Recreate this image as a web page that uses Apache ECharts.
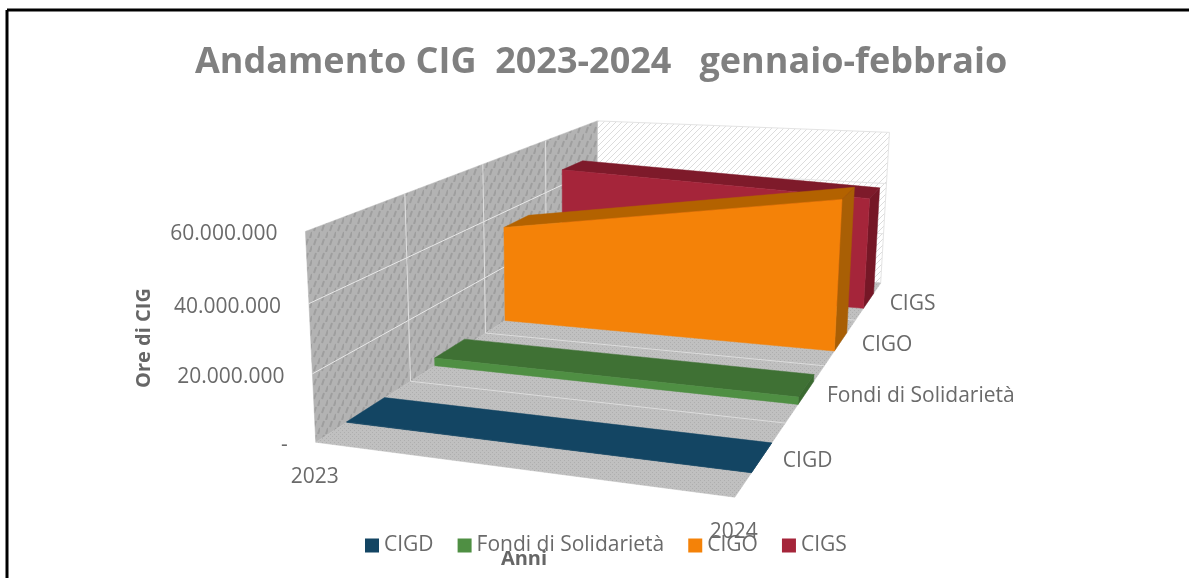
<!DOCTYPE html>
<html>
<head>
<meta charset="utf-8">
<style>
  html, body { margin: 0; padding: 0; background: #fff; overflow: hidden; }
  #main { width: 1189px; height: 578px; }
</style>
<script src="https://cdn.jsdelivr.net/npm/echarts@6/dist/echarts.min.js"></script>
</head>
<body>
<div id="main"></div>
<script>
// dati
var anni = ["2023", "2024"];
var nomiSerie = ["CIGD", "Fondi di Solidarietà", "CIGO", "CIGS"];
var cigd = [150000, 100000];
var fondi = [2600000, 2300000];
var cigo = [34500000, 51500000];
var cigs = [46000000, 41300000];
var tickValori = [0, 20000000, 40000000, 60000000];
var tickEtichette = ["-", "20.000.000", "40.000.000", "60.000.000"];
var valoriSerie = [cigd, fondi, cigo, cigs];

var colori = ["#134563", "#4f8f43", "#f48208", "#a5253a"];
var coloriTop = ["#134563", "#3f7134", "#b36200", "#7e1a2a"];
var coloriLato = ["#134563", "#3a6a30", "#a95f05", "#751726"];
var FONT = '"Open Sans", "Noto Sans", sans-serif';

// angoli del box 3D in pixel: [u, v, h, x, y]
var angoli = [
  [0, 0, 0, 316, 441],
  [1, 0, 0, 735, 498],
  [1, 1, 0, 881, 282],
  [0, 1, 0, 596, 263],
  [0, 0, 1, 305, 232],
  [0, 1, 1, 598, 120],
  [1, 1, 1, 889, 133]
];

// risolve la proiezione prospettica con i minimi quadrati
function camera() {
  var righe = [];
  angoli.forEach(function (a) {
    var x = a[3] / 1000, y = a[4] / 1000;
    righe.push([a[0], a[1], a[2], 1, 0, 0, 0, 0, -x * a[0], -x * a[1], -x * a[2], x]);
    righe.push([0, 0, 0, 0, a[0], a[1], a[2], 1, -y * a[0], -y * a[1], -y * a[2], y]);
  });
  var n = 11, m = [];
  for (var i = 0; i < n; i++) {
    m[i] = [];
    for (var j = 0; j <= n; j++) {
      var s = 0;
      righe.forEach(function (r) { s += r[i] * r[j]; });
      m[i][j] = s;
    }
  }
  for (var c = 0; c < n; c++) {
    var p = c;
    for (var r = c + 1; r < n; r++) if (Math.abs(m[r][c]) > Math.abs(m[p][c])) p = r;
    var t = m[c]; m[c] = m[p]; m[p] = t;
    for (var r2 = 0; r2 < n; r2++) {
      if (r2 === c) continue;
      var f = m[r2][c] / m[c][c];
      for (var k = c; k <= n; k++) m[r2][k] -= f * m[c][k];
    }
  }
  var sol = [];
  for (var q = 0; q < n; q++) sol[q] = m[q][n] / m[q][q];
  return sol;
}
var cam = camera();
function proietta(u, v, h) {
  var w = cam[8] * u + cam[9] * v + cam[10] * h + 1;
  return [
    1000 * (cam[0] * u + cam[1] * v + cam[2] * h + cam[3]) / w,
    1000 * (cam[4] * u + cam[5] * v + cam[6] * h + cam[7]) / w
  ];
}

// texture delle pareti
function tile(w, h, base, colore, disegna) {
  var cv = document.createElement("canvas");
  cv.width = w; cv.height = h;
  var g = cv.getContext("2d");
  g.fillStyle = base;
  g.fillRect(0, 0, w, h);
  g.strokeStyle = colore;
  g.fillStyle = colore;
  disegna(g);
  return { image: cv, repeat: "repeat" };
}
var texParete = tile(8, 14, "#b3b3b3", "#9e9e9e", function (g) {
  g.lineWidth = 2;
  g.beginPath();
  g.moveTo(2, 7); g.lineTo(4, 1);
  g.moveTo(6, 14); g.lineTo(8, 8);
  g.stroke();
});
var texPavimento = tile(4, 4, "#c0c0c0", "#aeaeae", function (g) {
  g.fillRect(0, 0, 1, 1);
  g.fillRect(2, 2, 1, 1);
});
var texFondo = tile(6, 6, "#ffffff", "#dcdcdc", function (g) {
  g.lineWidth = 1;
  g.beginPath();
  g.moveTo(0, 6); g.lineTo(6, 0);
  g.stroke();
});

function poligono(pts, fill, stroke) {
  return {
    type: "polygon",
    shape: { points: pts },
    style: { fill: fill, stroke: stroke || fill, lineWidth: stroke ? 1 : 0.5 }
  };
}
function linea(a, b, colore) {
  return {
    type: "line",
    shape: { x1: a[0], y1: a[1], x2: b[0], y2: b[1] },
    style: { stroke: colore, lineWidth: 1 }
  };
}
function testo(t, x, y, size, align, extra) {
  return Object.assign({
    type: "text",
    x: x,
    y: y,
    style: {
      text: t,
      fill: "#6a6a6a",
      font: size + "px " + FONT,
      textAlign: align,
      textVerticalAlign: "middle"
    }
  }, extra || {});
}

// pareti, griglia ed etichette degli assi
function disegnaBox(params, api) {
  var rect = params.coordSys;
  var el = [];
  el.push(poligono([proietta(0, 1, 0), proietta(1, 1, 0), proietta(1, 1, 1), proietta(0, 1, 1)], texFondo, "#e4e4e4"));
  el.push(poligono([proietta(0, 0, 0), proietta(0, 1, 0), proietta(0, 1, 1), proietta(0, 0, 1)], texParete));
  el.push(poligono([proietta(0, 0, 0), proietta(1, 0, 0), proietta(1, 1, 0), proietta(0, 1, 0)], texPavimento));
  tickValori.forEach(function (val, i) {
    var h = 1 - (api.coord([0, val])[1] - rect.y) / rect.height;
    if (i > 0 && i < tickValori.length - 1) {
      el.push(linea(proietta(0, 0, h), proietta(0, 1, h), "#e8e8e8"));
      el.push(linea(proietta(0, 1, h), proietta(1, 1, h), "#e4e4e4"));
    }
    var p = proietta(0, 0, h);
    el.push(testo(tickEtichette[i], p[0] - 28, p[1] + 3, 21, "right"));
  });
  nomiSerie.forEach(function (nome, k) {
    if (k === 0) return;
    var v = k / nomiSerie.length;
    el.push(linea(proietta(0, v, 0), proietta(0, v, 1), "#e0e0e0"));
    el.push(linea(proietta(0, v, 0), proietta(1, v, 0), "#dcdcdc"));
  });
  nomiSerie.forEach(function (nome, k) {
    var v = (k + 0.5) / nomiSerie.length;
    var p = proietta(1, v, 0);
    el.push(testo(nome, p[0] + 21, p[1] + 3, 21, "left"));
  });
  anni.forEach(function (anno, i) {
    var p = proietta(i, 0, 0);
    el.push(testo(anno, p[0] - 1, p[1] + 35, 21, "center"));
  });
  return { type: "group", children: el };
}

// un'area 3D per ogni serie, dal fondo verso il davanti
var SPESSORE = 0.05;
function disegnaArea(k) {
  return function (params, api) {
    var rect = params.coordSys;
    var c0 = api.coord([0, api.value(0)]);
    var c1 = api.coord([1, api.value(1)]);
    var h0 = 1 - (c0[1] - rect.y) / rect.height;
    var h1 = 1 - (c1[1] - rect.y) / rect.height;
    var vc = (k + 0.5) / nomiSerie.length;
    var v0 = vc - SPESSORE, v1 = vc + SPESSORE;
    return {
      type: "group",
      children: [
        poligono([proietta(0, v0, h0), proietta(1, v0, h1), proietta(1, v1, h1), proietta(0, v1, h0)], coloriTop[k]),
        poligono([proietta(1, v0, 0), proietta(1, v1, 0), proietta(1, v1, h1), proietta(1, v0, h1)], coloriLato[k]),
        poligono([proietta(0, v0, 0), proietta(1, v0, 0), proietta(1, v0, h1), proietta(0, v0, h0)], colori[k])
      ]
    };
  };
}

var serie = [{
  name: "box",
  type: "custom",
  z: 1,
  silent: true,
  data: [[0, 0]],
  renderItem: disegnaBox
}];
for (var k = nomiSerie.length - 1; k >= 0; k--) {
  serie.push({
    name: nomiSerie[k],
    type: "custom",
    z: 2,
    itemStyle: { color: colori[k] },
    data: [valoriSerie[k]],
    encode: { x: [], y: [0, 1] },
    renderItem: disegnaArea(k)
  });
}

var myChart = echarts.init(document.getElementById("main"));
var option = {
  animation: false,
  backgroundColor: "#ffffff",
  title: {
    text: "Andamento CIG  2023-2024   gennaio-febbraio",
    left: 190,
    top: 40,
    textStyle: { color: "#808080", fontFamily: FONT, fontWeight: "bold", fontSize: 36 }
  },
  legend: {
    data: nomiSerie,
    left: 360,
    top: 530,
    icon: "rect",
    itemWidth: 14,
    itemHeight: 14,
    itemGap: 24,
    textStyle: { color: "#6a6a6a", fontFamily: FONT, fontSize: 21 }
  },
  grid: { left: 0, top: 0, width: 100, height: 100, show: false },
  xAxis: { type: "category", data: anni, boundaryGap: false, show: false },
  yAxis: { type: "value", min: 0, max: 60000000, interval: 20000000, show: false },
  graphic: [
    { type: "line", shape: { x1: 7, y1: 10, x2: 1189, y2: 10 }, style: { stroke: "#000", lineWidth: 3 } },
    { type: "line", shape: { x1: 7, y1: 10, x2: 7, y2: 578 }, style: { stroke: "#000", lineWidth: 3 } },
    {
      type: "text", x: 144, y: 338, rotation: Math.PI / 2,
      style: { text: "Ore di CIG", fill: "#666", font: "bold 20px " + FONT, textAlign: "center", textVerticalAlign: "middle" }
    },
    {
      type: "text", x: 524, y: 559,
      style: { text: "Anni", fill: "#666", font: "bold 20px " + FONT, textAlign: "center", textVerticalAlign: "middle" }
    }
  ],
  series: serie
};
option && myChart.setOption(option);
</script>
</body>
</html>
